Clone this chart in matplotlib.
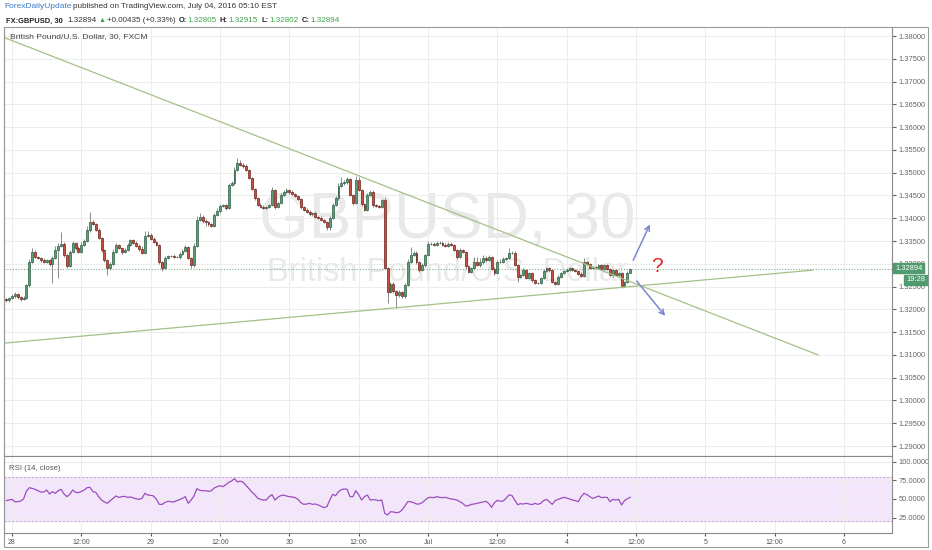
import matplotlib
matplotlib.use('Agg')
import matplotlib.pyplot as plt
from matplotlib.patches import Rectangle

plt.rcParams['font.family'] = ['Liberation Sans', 'DejaVu Sans']

# 30 min bars, bar 0 = 28 Jun 00:00 (weekend gap collapsed)
first_bar = -2
first_open = 1.3222
closes = [
    1.3220, 1.3225, 1.3229, 1.3234, 1.3227, 1.3223, 1.3225, 1.3253, 1.3304, 1.3326,
    1.3315, 1.3313, 1.3308, 1.3304, 1.3308, 1.3300, 1.3313, 1.3330, 1.3339, 1.3344,
    1.3319, 1.3295, 1.3326, 1.3346, 1.3335, 1.3326, 1.3341, 1.3350, 1.3374, 1.3392,
    1.3387, 1.3374, 1.3357, 1.3330, 1.3308, 1.3291, 1.3300, 1.3326, 1.3341, 1.3335,
    1.3326, 1.3330, 1.3341, 1.3352, 1.3346, 1.3339, 1.3333, 1.3324, 1.3361, 1.3363,
    1.3355, 1.3348, 1.3341, 1.3304, 1.3291, 1.3313, 1.3317, 1.3317, 1.3315, 1.3315,
    1.3322, 1.3328, 1.3337, 1.3313, 1.3297, 1.3339, 1.3396, 1.3403, 1.3394, 1.3392,
    1.3387, 1.3383, 1.3407, 1.3416, 1.3427, 1.3429, 1.3423, 1.3473, 1.3477, 1.3506,
    1.3521, 1.3517, 1.3515, 1.3506, 1.3488, 1.3464, 1.3444, 1.3429, 1.3425, 1.3423,
    1.3425, 1.3429, 1.3462, 1.3425, 1.3433, 1.3451, 1.3458, 1.3462, 1.3458, 1.3453,
    1.3449, 1.3442, 1.3425, 1.3418, 1.3414, 1.3409, 1.3412, 1.3403, 1.3401, 1.3396,
    1.3392, 1.3381, 1.3401, 1.3429, 1.3444, 1.3471, 1.3477, 1.3479, 1.3486, 1.3451,
    1.3433, 1.3484, 1.3462, 1.3431, 1.3418, 1.3451, 1.3458, 1.3429, 1.3427, 1.3425,
    1.3440, 1.3291, 1.3238, 1.3256, 1.3240, 1.3231, 1.3238, 1.3229, 1.3253, 1.3304,
    1.3319, 1.3324, 1.3304, 1.3286, 1.3297, 1.3319, 1.3344, 1.3344, 1.3341, 1.3346,
    1.3346, 1.3341, 1.3339, 1.3344, 1.3341, 1.3330, 1.3315, 1.3330, 1.3326, 1.3295,
    1.3282, 1.3291, 1.3304, 1.3297, 1.3304, 1.3313, 1.3308, 1.3315, 1.3289, 1.3280,
    1.3304, 1.3304, 1.3311, 1.3313, 1.3324, 1.3324, 1.3297, 1.3271, 1.3275, 1.3286,
    1.3269, 1.3280, 1.3264, 1.3258, 1.3258, 1.3269, 1.3284, 1.3291, 1.3286, 1.3260,
    1.3256, 1.3271, 1.3280, 1.3284, 1.3286, 1.3291, 1.3286, 1.3284, 1.3278, 1.3273,
    1.3304, 1.3300, 1.3291, 1.3293, 1.3291, 1.3297, 1.3289, 1.3297, 1.3289, 1.3275,
    1.3286, 1.3275, 1.3280, 1.3251, 1.3260, 1.32805, 1.32894,
]
# wick lengths in pips above / below the body
upper_wick = [
    2, 3, 4, 3, 2, 3, 4, 3, 6, 9,
    4, 3, 2, 4, 3, 2, 5, 8, 6, 25,
    3, 2, 4, 3, 2, 4, 6, 5, 8, 22,
    5, 3, 4, 2, 3, 2, 3, 6, 4, 3,
    2, 4, 5, 3, 2, 3, 4, 6, 10, 8,
    4, 3, 2, 3, 2, 4, 3, 2, 4, 3,
    3, 4, 5, 3, 2, 6, 10, 8, 5, 4,
    3, 2, 4, 6, 5, 3, 2, 5, 4, 6,
    11, 6, 5, 4, 3, 3, 2, 3, 4, 3,
    2, 3, 7, 2, 3, 4, 4, 5, 3, 3,
    2, 3, 3, 2, 4, 3, 2, 3, 2, 3,
    2, 2, 4, 4, 5, 6, 13, 5, 4, 3,
    3, 9, 6, 3, 2, 5, 4, 3, 2, 3,
    3, 4, 3, 4, 3, 3, 4, 3, 4, 6,
    18, 4, 3, 3, 4, 3, 5, 4, 3, 4,
    3, 3, 4, 3, 3, 2, 3, 4, 3, 3,
    2, 3, 10, 12, 9, 6, 5, 4, 2, 3,
    5, 6, 4, 3, 11, 5, 3, 2, 3, 4,
    2, 3, 2, 3, 2, 3, 4, 3, 3, 2,
    3, 4, 3, 3, 4, 3, 3, 3, 2, 3,
    9, 3, 2, 3, 3, 3, 2, 3, 3, 2,
    3, 2, 3, 2, 3, 4, 2,
]
lower_wick = [
    3, 4, 2, 3, 4, 5, 3, 2, 3, 2,
    3, 2, 4, 3, 2, 4, 42, 3, 62, 3,
    3, 4, 2, 3, 4, 2, 3, 2, 3, 4,
    2, 3, 3, 4, 3, 15, 4, 2, 3, 2,
    4, 3, 2, 3, 2, 3, 4, 3, 2, 3,
    2, 3, 3, 4, 6, 3, 2, 3, 2, 3,
    4, 3, 2, 3, 7, 3, 2, 3, 4, 8,
    5, 3, 2, 3, 4, 3, 5, 3, 2, 3,
    3, 2, 4, 3, 2, 3, 4, 3, 2, 3,
    3, 2, 3, 4, 3, 2, 3, 3, 4, 2,
    3, 2, 4, 3, 2, 3, 4, 3, 2, 3,
    3, 6, 7, 2, 3, 4, 2, 3, 3, 2,
    3, 2, 3, 4, 3, 2, 3, 4, 3, 2,
    3, 3, 24, 3, 4, 27, 3, 4, 3, 2,
    3, 2, 4, 3, 2, 3, 2, 3, 2, 3,
    2, 3, 2, 3, 2, 3, 4, 3, 2, 6,
    3, 2, 3, 2, 3, 4, 3, 2, 3, 4,
    3, 2, 3, 2, 3, 3, 2, 12, 3, 2,
    3, 2, 3, 2, 3, 2, 3, 2, 4, 3,
    3, 2, 3, 2, 3, 2, 2, 3, 2, 3,
    3, 2, 3, 2, 3, 2, 3, 2, 3, 2,
    3, 2, 3, 5, 3, 2, 1,
]
rsi = [
    47.8, 48.6, 49.5, 46.4, 46.4, 47.2, 50.0, 60.5, 65.1, 64.2,
    62.9, 61.1, 59.3, 59.3, 62.0, 56.7, 59.8, 57.6, 61.1, 62.9,
    56.7, 53.1, 56.2, 62.0, 58.9, 58.4, 60.2, 62.0, 65.1, 65.6,
    59.8, 58.9, 53.1, 48.6, 46.0, 44.2, 47.8, 50.9, 54.0, 52.2,
    53.1, 53.5, 52.2, 52.7, 51.3, 50.4, 49.5, 50.9, 57.6, 55.3,
    54.9, 54.0, 49.5, 42.8, 42.8, 45.5, 46.9, 46.4, 46.0, 47.8,
    49.1, 50.9, 53.1, 44.2, 48.6, 54.0, 63.8, 61.6, 61.1, 61.1,
    60.2, 61.1, 64.7, 66.5, 67.8, 66.5, 69.1, 72.3, 74.0, 77.2,
    72.7, 74.0, 72.3, 68.3, 63.8, 59.3, 55.8, 51.3, 49.5, 48.6,
    48.6, 53.1, 55.8, 48.6, 52.2, 54.4, 55.3, 54.0, 53.1, 52.7,
    51.8, 49.5, 45.1, 42.8, 43.3, 44.2, 42.8, 43.3, 42.0, 40.2,
    38.4, 39.7, 48.6, 56.2, 54.4, 59.8, 62.5, 63.4, 62.9, 53.1,
    53.1, 61.1, 55.8, 48.6, 53.1, 55.3, 48.6, 49.1, 48.6, 47.8,
    48.6, 30.8, 28.6, 33.0, 32.6, 31.7, 32.2, 35.3, 40.6, 46.4,
    46.4, 45.1, 43.3, 43.3, 45.1, 48.6, 51.8, 52.2, 51.8, 53.1,
    52.2, 51.8, 52.2, 50.9, 50.0, 49.5, 48.6, 46.4, 44.2, 40.6,
    41.1, 42.8, 43.3, 44.2, 45.1, 46.0, 46.9, 44.2, 38.8, 45.1,
    48.2, 46.9, 47.3, 50.9, 55.3, 54.9, 48.6, 42.4, 43.7, 43.3,
    44.2, 43.3, 42.4, 44.2, 42.8, 44.2, 47.8, 49.5, 46.4, 42.8,
    47.8, 49.5, 50.9, 52.2, 51.3, 50.0, 48.6, 47.8, 46.4, 53.1,
    57.6, 55.8, 53.1, 50.9, 52.2, 54.0, 51.8, 52.2, 52.2, 46.4,
    49.5, 48.6, 49.5, 42.0, 47.8, 50.4, 52.2,
]
last_price = 1.32894

x_tick_pos = [0, 24, 48, 72, 96, 120, 144, 168, 192, 216, 240, 264, 288]
x_tick_labels = ['28', '12:00', '29', '12:00', '30', '12:00', 'Jul',
                 '12:00', '4', '12:00', '5', '12:00', '6']
price_ticks = [1.290, 1.295, 1.300, 1.305, 1.310, 1.315, 1.320, 1.325, 1.330,
               1.335, 1.340, 1.345, 1.350, 1.355, 1.360, 1.365, 1.370, 1.375, 1.380]
rsi_ticks = [25, 50, 75, 100]
rsi_band = (20, 80)

# drawings: (bar, price)
down_line = [(-2.4, 1.3796), (279.0, 1.3100)]
up_line = [(-2.4, 1.3126), (277.0, 1.3286)]
arrow_up = [(214.6, 1.3302), (221.2, 1.3392)]
arrow_down = [(215.6, 1.3267), (226.7, 1.3181)]
question_at = (223.2, 1.3293)

W, H = 932, 550
def fx(x):
    return x / W
def fy(y):
    return 1 - y / H

fig = plt.figure(figsize=(9.32, 5.5), dpi=100)
fig.patch.set_facecolor('white')
ax = fig.add_axes([fx(4), fy(456), fx(888), (456 - 27) / H])
rax = fig.add_axes([fx(4), fy(533), fx(888), (533 - 456) / H])

idx = list(range(first_bar, first_bar + len(closes)))
opens = [first_open] + closes[:-1]
opens[-1] = 1.32805

up_face, up_edge = '#5f9d78', '#2b5e40'
dn_face, dn_edge = '#c9503f', '#6b2018'
for i, o, c, uw, lw in zip(idx, opens, closes, upper_wick, lower_wick):
    top, bot = max(o, c), min(o, c)
    ax.vlines(i, bot - lw * 0.0001, top + uw * 0.0001, color='#8a8a8a', lw=0.7, zorder=2)
    h = max(top - bot, 0.00004)
    if c >= o:
        fc, ec = up_face, up_edge
    else:
        fc, ec = dn_face, dn_edge
    ax.bar(i, h, bottom=bot, width=0.66, color=fc, edgecolor=ec, lw=0.5, zorder=3)

xmin, xmax = -2.77, 304.6
ax.set_xlim(xmin, xmax)
ax.set_ylim(1.28781, 1.38198)

# trend lines and arrows
ax.plot([p[0] for p in down_line], [p[1] for p in down_line], color='#a3c187', lw=0.9, zorder=4)
ax.plot([p[0] for p in up_line], [p[1] for p in up_line], color='#a3c187', lw=0.9, zorder=4)
for a in (arrow_up, arrow_down):
    ax.annotate('', xy=a[1], xytext=a[0],
                arrowprops=dict(arrowstyle='->', color='#7d86cf', lw=1.1, mutation_scale=9),
                zorder=5)
ax.text(question_at[0], question_at[1], '?', color='#e8262a', fontsize=15,
        ha='center', va='center', zorder=5)
ax.axhline(last_price, color='#7fae8c', lw=0.8, ls=(0, (1, 1.5)), zorder=1)

# watermark
ax.text(fx(447), fy(222), 'GBPUSD, 30', transform=fig.transFigure, fontsize=46,
        color='#e9e9e9', ha='center', va='center', zorder=0)
ax.text(fx(447), fy(272), 'British Pound/U.S. Dollar', transform=fig.transFigure,
        fontsize=23.5, color='#e9e9e9', ha='center', va='center', zorder=0)

grid_c = '#ececec'
for a in (ax, rax):
    a.set_xticks(x_tick_pos)
    a.grid(True, color=grid_c, lw=0.7)
    a.set_axisbelow(True)
    a.yaxis.tick_right()
    a.tick_params(axis='y', labelsize=5.4, colors='#666666', length=3, pad=1.5)
    a.tick_params(axis='x', length=0)
    for s in a.spines.values():
        s.set_color('#8a8a8a')
        s.set_linewidth(0.8)
ax.spines['top'].set_color('#d0d0d0')
ax.set_xticklabels([])
ax.set_yticks(price_ticks)
ax.set_yticklabels(['%.5f' % p for p in price_ticks])

# RSI panel
rax.plot(idx, rsi, color='#9c4dbf', lw=0.9, zorder=3)
rax.axhspan(rsi_band[0], rsi_band[1], color='#f3e6fb', zorder=0)
for lvl in rsi_band:
    rax.axhline(lvl, color='#b9a9c9', lw=0.7, ls=(0, (2, 2)), zorder=1)
rax.set_xlim(xmin, xmax)
rax.set_ylim(4.5, 107.5)
rax.set_yticks(rsi_ticks)
rax.set_yticklabels(['%.4f' % v for v in rsi_ticks])
rax.set_xticklabels(x_tick_labels)
rax.tick_params(axis='x', labelsize=5, colors='#555555', pad=2, length=2)
rax.text(fx(9), fy(469), 'RSI (14, close)', transform=fig.transFigure, fontsize=5.6,
         color='#555555', va='center')

# outer frame
fig.add_artist(Rectangle((fx(4), fy(547)), fx(924), (547 - 27) / H, transform=fig.transFigure,
                         fill=False, edgecolor='#9a9a9a', lw=0.8))

# header, pieces laid out one after another
renderer = fig.canvas.get_renderer()
def text_row(x0, y, pieces):
    x = x0
    for s, kw, gap in pieces:
        t = fig.text(fx(x), fy(y), s, va='center', **kw)
        x += t.get_window_extent(renderer).width + gap

text_row(4, 7, [
    ('ForexDailyUpdate', dict(fontsize=6.0, color='#3b7cc4'), 2),
    ('published on TradingView.com, July 04, 2016 05:10 EST', dict(fontsize=5.9, color='#333333'), 0),
])
green = '#3ca34a'
bold = dict(fontsize=5.4, weight='bold', color='#222222')
norm = dict(fontsize=5.8, color='#333333')
grn = dict(fontsize=5.8, color=green)
text_row(6, 21, [
    ('FX:GBPUSD, 30', bold, 5),
    ('1.32894', norm, 2),
    ('\u25b2', dict(fontsize=5.0, color=green), 1),
    ('+0.00435 (+0.33%)', norm, 3),
    ('O:', bold, 1), ('1.32805', grn, 3),
    ('H:', bold, 1), ('1.32915', grn, 3),
    ('L:', bold, 1), ('1.32802', grn, 3),
    ('C:', bold, 1), ('1.32894', grn, 0),
])

fig.text(fx(10), fy(37), 'British Pound/U.S. Dollar, 30, FXCM', fontsize=6.1,
         color='#444444', va='center')

# last price tags on the scale
fig.text(fx(895), fy(268), '%.5f' % last_price, fontsize=5.4, color='white', va='center',
         bbox=dict(boxstyle='square,pad=0.25', fc='#4f9a6e', ec='#4f9a6e'), zorder=6)
fig.text(fx(906), fy(280), '19:28', fontsize=5.4, color='white', va='center',
         bbox=dict(boxstyle='square,pad=0.25', fc='#4f9a6e', ec='#4f9a6e'), zorder=6)

fig.savefig('out.png', dpi=100)
